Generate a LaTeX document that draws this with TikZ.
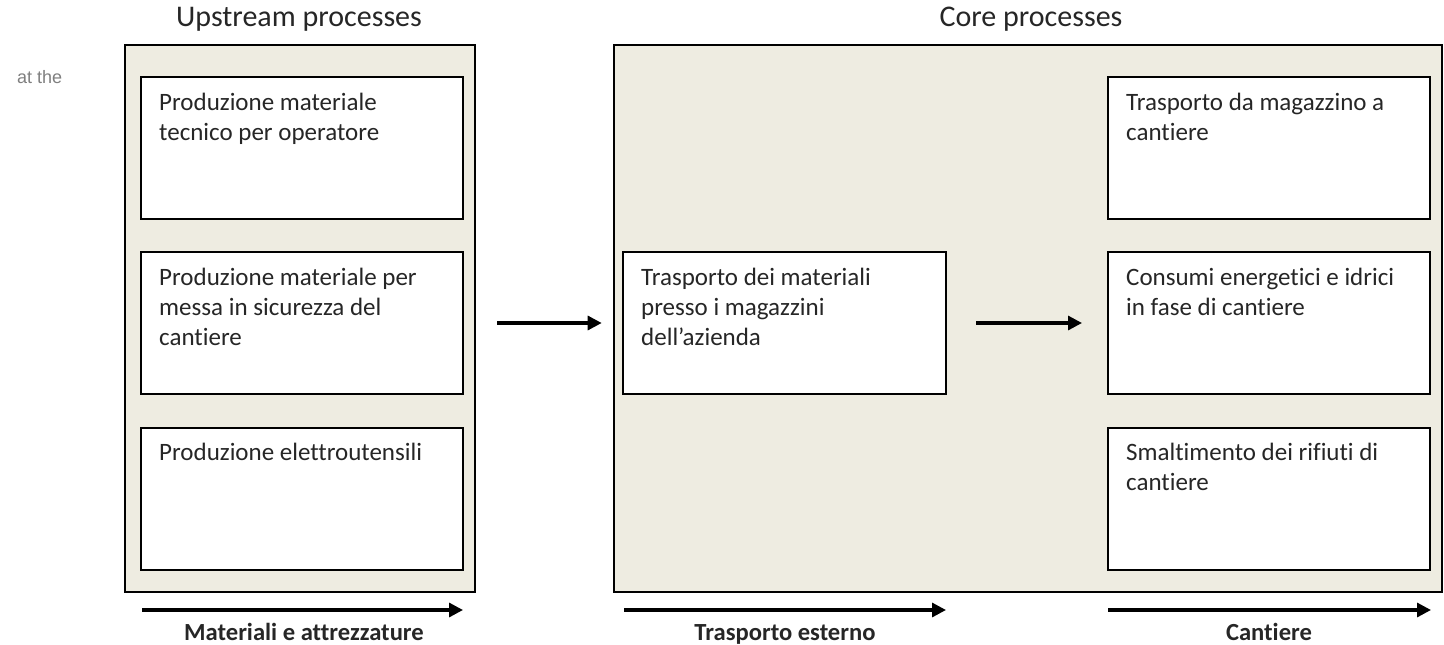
\documentclass[tikz,border=0pt]{standalone}
\usepackage{fontspec}
\setmainfont{Carlito}[Ligatures=NoCommon]
\newfontfamily\arialfont{Liberation Sans}
\usetikzlibrary{arrows.meta,positioning,calc}
\definecolor{panelfill}{HTML}{EEECE1}
\definecolor{txt}{HTML}{262626}
\definecolor{grytxt}{HTML}{7F7F7F}
\newcommand{\boxlines}[1]{\begin{tabular}[t]{@{}l@{}}#1\end{tabular}}
\begin{document}
\begin{tikzpicture}[x=1pt,y=-1pt,
  panel/.style={draw=black, line width=2.6pt, fill=panelfill, inner sep=0pt, minimum width=#1},
  panel/.default=352pt,
  procbox/.style={draw=black, line width=2pt, fill=white, inner sep=0pt, minimum width=322pt, minimum height=142pt},
  boxtext/.style={anchor=base west, inner sep=0pt, text=txt, font=\fontsize{25}{30}\selectfont},
  title/.style={anchor=base, inner sep=0pt, text=txt, font=\fontsize{30}{34}\selectfont},
  flowlabel/.style={anchor=base, inner sep=0pt, text=txt, font=\fontsize{24.6}{28}\selectfont\bfseries},
  arr/.style={line width=3.2pt, -{Triangle[length=14pt,width=14pt]}},
]
\useasboundingbox (0,0) rectangle (1444,645);

% panels
\node[panel=350pt, minimum height=547pt] (up) at (300,318.5) {};
\node[panel=828pt, minimum height=547pt] (core) at (1028,318.5) {};

% titles
\node[title] (tup) at (299,27) {Upstream processes};
\node[title] (tcore) at (1031,27) {Core processes};

% side note
\node[anchor=base west, inner sep=0pt, text=grytxt, font=\arialfont\fontsize{18}{20}\selectfont] (note) at (17,83) {at the};

% upstream boxes
\node[procbox] (b1) at (302,148) {};
\node[procbox] (b2) at (302,323) {};
\node[procbox] (b3) at (302,498.5) {};
\node[boxtext] (t1) at ([xshift=19pt,yshift=-34pt]b1.north west) {\boxlines{Produzione materiale\\tecnico per operatore}};
\node[boxtext] (t2) at ([xshift=19pt,yshift=-34pt]b2.north west) {\boxlines{Produzione materiale per\\messa in sicurezza del\\cantiere}};
\node[boxtext] (t3) at ([xshift=19pt,yshift=-34pt]b3.north west) {\boxlines{Produzione elettroutensili}};

% middle box
\node[procbox, minimum width=323pt] (m) at (784.5,323) {};
\node[boxtext] (tm) at ([xshift=19pt,yshift=-34pt]m.north west) {\boxlines{Trasporto dei materiali\\presso i magazzini\\dell’azienda}};

% right boxes
\node[procbox] (r1) at (1269,148) {};
\node[procbox] (r2) at (1269,323) {};
\node[procbox] (r3) at (1269,498.5) {};
\node[boxtext] (tr1) at ([xshift=19pt,yshift=-34pt]r1.north west) {\boxlines{Trasporto da magazzino a\\cantiere}};
\node[boxtext] (tr2) at ([xshift=19pt,yshift=-34pt]r2.north west) {\boxlines{Consumi energetici e idrici\\in fase di cantiere}};
\node[boxtext] (tr3) at ([xshift=19pt,yshift=-34pt]r3.north west) {\boxlines{Smaltimento dei rifiuti di\\cantiere}};

% flow arrows
\draw[arr, shorten <=21pt, shorten >=11pt] (up.east |- b2.center) -- (core.west |- b2.center);
\draw[arr, shorten <=29pt, shorten >=25pt] (m.east) -- (r2.west);

% bottom arrows
\coordinate (a1s) at (142,610);
\coordinate (a1e) at (463,610);
\coordinate (a2s) at (624,610);
\coordinate (a2e) at (946,610);
\coordinate (a3s) at (1108,610);
\coordinate (a3e) at (1431,610);
\draw[arr] (a1s) -- (a1e);
\draw[arr] (a2s) -- (a2e);
\draw[arr] (a3s) -- (a3e);
\node[flowlabel] (l1) at (304,640) {Materiali e attrezzature};
\node[flowlabel] (l2) at (785,640) {Trasporto esterno};
\node[flowlabel] (l3) at (1269,640) {Cantiere};
\end{tikzpicture}
\end{document}
